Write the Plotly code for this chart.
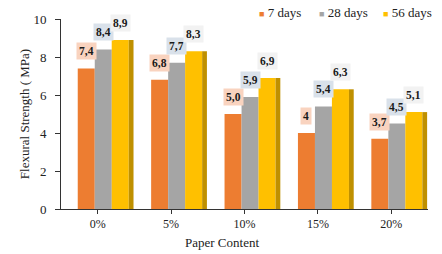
import plotly.graph_objects as go
import numpy as np

categories = ["0%", "5%", "10%", "15%", "20%"]
series_names = ["7 days", "28 days", "56 days"]
days7 = [7.4, 6.8, 5.0, 4.0, 3.7]
days28 = [8.4, 7.7, 5.9, 5.4, 4.5]
days56 = [8.9, 8.3, 6.9, 6.3, 5.1]
label7 = ["7,4", "6,8", "5,0", "4", "3,7"]
label28 = ["8,4", "7,7", "5,9", "5,4", "4,5"]
label56 = ["8,9", "8,3", "6,9", "6,3", "5,1"]
y_ticks = [0, 2, 4, 6, 8, 10]

colors = ["#ED7D31", "#A5A5A5", "#FFC000"]
label_bg = ["#F9D3BF", "#D9E1EA", "#F2F2F2"]
side_color = "#BF9000"
FONT = "Liberation Serif"

x = np.arange(len(categories))
bar_w = 0.232
offsets = [-0.272, -0.04, 0.191]
values = [days7, days28, days56]
labels = [label7, label28, label56]

fig = go.Figure()
for name, vals, col, off in zip(series_names, values, colors, offsets):
    fig.add_trace(go.Bar(x=x, y=vals, name=name, marker=dict(color=col, line=dict(width=0)),
                         width=bar_w, offset=off, showlegend=False))
# 3D side face of the rear (56 days) column
fig.add_trace(go.Bar(x=x, y=days56, marker=dict(color=side_color, line=dict(width=0)),
                     width=0.065, offset=offsets[2] + bar_w, showlegend=False, hoverinfo="skip"))

annotations = []
for vals, labs, off, bg in zip(values, labels, offsets, label_bg):
    for xi, v, t in zip(x, vals, labs):
        annotations.append(dict(x=xi + off + bar_w / 2, y=v, xref="x", yref="y", text="<b>" + t + "</b>",
                                showarrow=False, yanchor="bottom", yshift=8, bgcolor=bg, borderpad=2,
                                font=dict(family=FONT, size=11.5, color="#1a1a1a")))

legend_x = [257, 317, 381]
for name, col, lx in zip(series_names, colors, legend_x):
    annotations.append(dict(x=(lx - 61) / 367, y=1, xref="paper", yref="paper", yshift=7,
                            xanchor="left", yanchor="middle", showarrow=False,
                            text=f'<span style="color:{col};font-size:9px">■</span> {name}',
                            font=dict(family=FONT, size=13, color="#222")))

annotations.append(dict(x=(222 - 61) / 367, y=0, xref="paper", yref="paper", yshift=-33,
                        xanchor="center", yanchor="middle", showarrow=False, text="Paper Content",
                        font=dict(family=FONT, size=13, color="#222")))

fig.update_layout(
    width=442, height=254,
    margin=dict(l=61, r=14, t=19, b=45),
    paper_bgcolor="white", plot_bgcolor="white",
    barmode="group",
    annotations=annotations,
    font=dict(family=FONT, size=12, color="#222"),
    xaxis=dict(tickmode="array", tickvals=x, ticktext=categories, range=[-0.5, len(categories) - 0.5],
               showline=True, linecolor="#333", linewidth=1, ticks="outside", ticklen=4,
               tickcolor="#333", showgrid=False, zeroline=False, fixedrange=True,
               tickfont=dict(family=FONT, size=12)),
    yaxis=dict(range=[0, 10], tickvals=y_ticks, showline=True, linecolor="#333", linewidth=1,
               ticks="outside", ticklen=5, tickcolor="#333", showgrid=False, zeroline=False,
               ticklabelstandoff=6, fixedrange=True,
               title=dict(text="Flexural Strength ( MPa)", font=dict(family=FONT, size=13), standoff=0),
               tickfont=dict(family=FONT, size=13)),
)

fig.write_html("out.html", config={"displayModeBar": False},
               post_script="document.body.style.margin='0px';")
